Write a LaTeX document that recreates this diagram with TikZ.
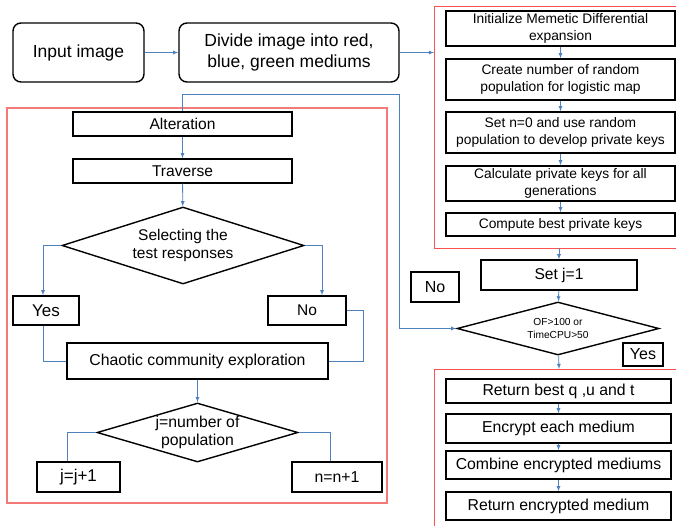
\documentclass[tikz,border=0pt]{standalone}
\usepackage{fontspec}
\setmainfont{Liberation Sans}
\usetikzlibrary{shapes.geometric,arrows}

\definecolor{linkblue}{HTML}{4F81BD}
\definecolor{framered}{HTML}{FF5050}
\definecolor{framepink}{HTML}{F47A7A}

\begin{document}
\begin{tikzpicture}[x=1pt, y=-1pt, >=latex,
  bigbox/.style={draw, line width=1.4pt, rounded corners=8pt, align=center,
    font=\fontsize{17.5}{21}\selectfont, inner sep=0pt},
  box/.style={draw, line width=1.4pt, align=center,
    font=\fontsize{15}{17.5}\selectfont, inner sep=0pt},
  keybox/.style={box, minimum width=229, font=\fontsize{13.8}{16.5}\selectfont},
  encbox/.style={box, minimum width=225, font=\fontsize{15.8}{18}\selectfont},
  decision/.style={draw, line width=1.4pt, diamond, align=center, inner sep=0pt,
    font=\fontsize{15.5}{18.5}\selectfont},
  link/.style={draw=linkblue, line width=0.8pt},
  keyframe/.style={draw=framered, line width=1pt},
  loopframe/.style={draw=framepink, line width=1.2pt}]
  \useasboundingbox (0,0) rectangle (676,525);

  \node[bigbox, minimum width=131, minimum height=59] (input) at (78.5,52.5) {Input image};
  \node[bigbox, minimum width=220, minimum height=59] (divide) at (289,52.5)
    {Divide image into red,\\ blue, green mediums};

  % key generation
  \draw[keyframe] (676,6) -- (434,6) -- (434,248) -- (676,248);
  \coordinate (keyin) at (434,52.5);
  \coordinate (keyout) at (559,248);
  \node[keybox, minimum height=35] (init) at (560.5,28.5)
    {Initialize Memetic Differential\\ expansion};
  \node[keybox, minimum height=41] (create) at (560.5,79.5)
    {Create number of random\\ population for logistic map};
  \node[keybox, minimum height=41] (setn) at (560.5,132.5)
    {Set n=0 and use random\\ population to develop private keys};
  \node[keybox, minimum height=35] (calc) at (560.5,183.5)
    {Calculate private keys for all\\ generations};
  \node[keybox, minimum height=23] (best) at (560.5,224.5)
    {Compute best private keys};

  \node[box, minimum width=156, minimum height=30, font=\fontsize{15.6}{18}\selectfont]
    (setj) at (559,275) {Set j=1};
  \node[box, minimum width=48, minimum height=30, font=\fontsize{16}{18}\selectfont]
    (nostop) at (435,287) {No};
  \node[decision, minimum width=202, minimum height=53, aspect=3.8,
    font=\fontsize{10.2}{13}\selectfont] (stop) at (558,328.5) {OF>100 or\\ TimeCPU>50};
  \node[box, minimum width=40, minimum height=23, font=\fontsize{16}{18}\selectfont]
    (yesstop) at (643,354.5) {Yes};

  % encryption
  \draw[keyframe] (676,369) -- (434,369) -- (434,530);
  \coordinate (encin) at (559,369);
  \node[encbox, minimum height=24] (retbest) at (558.5,391) {Return best q ,u and t};
  \node[encbox, minimum height=29] (encrypt) at (558.5,428.5) {Encrypt each medium};
  \node[encbox, minimum height=28] (combine) at (558.5,465) {Combine encrypted mediums};
  \node[encbox, minimum height=28] (retenc) at (558.5,506) {Return encrypted medium};

  % search loop
  \draw[loopframe] (7,108) rectangle (387,503);
  \coordinate (loop) at (399,94);
  \node[box, minimum width=219, minimum height=24, font=\fontsize{15.6}{18}\selectfont]
    (alter) at (182.5,124) {Alteration};
  \node[box, minimum width=219, minimum height=24, font=\fontsize{15.6}{18}\selectfont]
    (trav) at (182.5,171) {Traverse};
  \node[decision, minimum width=242, minimum height=77, aspect=3.1] (select) at (183,245.5)
    {Selecting the\\ test responses};
  \node[box, minimum width=66, minimum height=29, font=\fontsize{17}{19}\selectfont]
    (yessel) at (46,310.5) {Yes};
  \node[box, minimum width=78, minimum height=29, font=\fontsize{15.5}{18}\selectfont]
    (nosel) at (307,310.5) {No};
  \node[box, minimum width=261, minimum height=36, font=\fontsize{15.8}{18}\selectfont]
    (chaos) at (197.5,361) {Chaotic community exploration};
  \node[decision, minimum width=201, minimum height=59, aspect=3.4,
    font=\fontsize{15.8}{18}\selectfont] (jpop) at (197.5,432.5)
    {j=number of\\ population};
  \node[box, minimum width=83, minimum height=30, font=\fontsize{17}{19}\selectfont]
    (jinc) at (78.5,477) {j=j+1};
  \node[box, minimum width=90, minimum height=30, font=\fontsize{15.8}{18}\selectfont]
    (ninc) at (337,477) {n=n+1};

  \draw[link, ->] (input) -- (divide);
  \draw[link, ->] (divide) -- (keyin);
  \draw[link, ->] (init) -- (create);
  \draw[link, ->] (create) -- (setn);
  \draw[link, ->] (setn) -- (calc);
  \draw[link, ->] (calc) -- (best);
  \draw[link, ->] (keyout) -- (setj);
  \draw[link, ->] (setj) -- (stop);
  \draw[link, ->] (stop) -- (encin);
  \draw[link, ->] (retbest) -- (encrypt);
  \draw[link, ->] (encrypt) -- (combine);
  \draw[link, ->] (combine) -- (retenc);

  \draw[link, ->] (alter.north) |- (loop) |- (stop.west);
  \draw[link, ->] (alter) -- (trav);
  \draw[link, ->] (trav) -- (select);
  \draw[link, ->] (select.west) -| ([xshift=-3pt]yessel.north);
  \draw[link, ->] (select.east) -| ([xshift=15pt]nosel.north);
  \draw[link] ([xshift=-3pt]yessel.south) |- (chaos.west);
  \draw[link] (nosel.east) -- ++(17,0) |- (chaos.east);
  \draw[link, ->] (chaos) -- (jpop);
  \draw[link] (jpop.west) -| ([xshift=-11pt]jinc.north);
  \draw[link] (jpop.east) -| ([xshift=-7pt]ninc.north);
\end{tikzpicture}
\end{document}
